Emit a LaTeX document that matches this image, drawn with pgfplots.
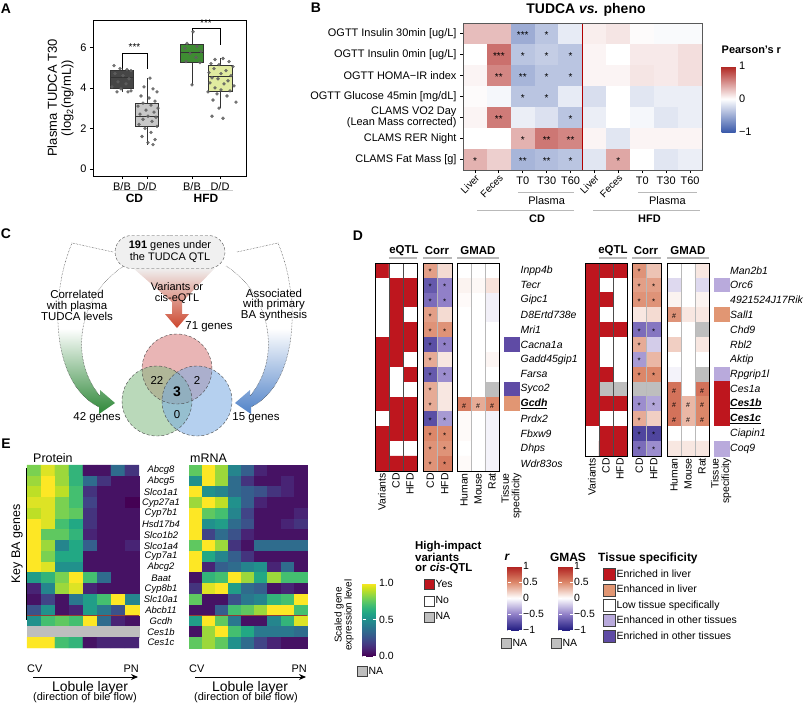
\documentclass[border=0pt]{standalone}
\usepackage{pgfplots}
\pgfplotsset{compat=1.18}
\usepgfplotslibrary{statistics}
\usetikzlibrary{shapes.misc,arrows.meta}
\usepackage{fontspec}
\setmainfont{Liberation Sans}
\newcommand\fs[1]{\fontsize{#1}{#1}\selectfont}
\newcommand\gene[1]{\underline{\textbf{#1}}}

\definecolor{bbCD}{RGB}{70,70,70}
\definecolor{ddCD}{RGB}{200,200,200}
\definecolor{bbHFD}{RGB}{62,140,50}
\definecolor{ddHFD}{RGB}{225,235,160}
\definecolor{qred}{RGB}{190,22,30}
\definecolor{tsal}{RGB}{225,150,115}
\definecolor{tlav}{RGB}{185,170,220}
\definecolor{tpur}{RGB}{95,75,165}
\definecolor{sepline}{RGB}{150,60,50}
\definecolor{arrgreen}{RGB}{45,135,55}
\definecolor{arrblue}{RGB}{80,130,200}
\definecolor{arrred}{RGB}{205,70,45}
\definecolor{vred}{RGB}{215,120,120}
\definecolor{vgreen}{RGB}{130,185,130}
\definecolor{vblue}{RGB}{120,170,225}

\pgfplotsset{
  colormap={rbB}{rgb255=(59,90,170) rgb255=(255,255,255) rgb255=(175,35,30)},
  colormap={eqtl}{rgb255=(255,255,255) rgb255=(190,22,30) rgb255=(190,190,190)},
  colormap={corr}{rgb255=(35,30,130) rgb255=(145,128,200) rgb255=(255,255,255) rgb255=(220,135,105) rgb255=(175,30,30) rgb255=(190,190,190)},
  colormap={corrleg}{rgb255=(35,30,130) rgb255=(145,128,200) rgb255=(255,255,255) rgb255=(220,135,105) rgb255=(175,30,30)},
  colormap={tis}{rgb255=(255,255,255) rgb255=(190,22,30) rgb255=(225,150,115) rgb255=(185,170,220) rgb255=(95,75,165)},
  colormap={vna}{rgb255=(68,1,84) rgb255=(72,36,117) rgb255=(65,68,135) rgb255=(53,95,141) rgb255=(42,120,142) rgb255=(33,145,140) rgb255=(34,168,132) rgb255=(68,191,112) rgb255=(122,209,81) rgb255=(189,223,38) rgb255=(253,231,37) rgb255=(190,190,190)},
  every axis/.append style={/pgf/number format/assume math mode=true},
  hm/.style={scale only axis, anchor=north west, enlargelimits=false, y dir=reverse,
    axis on top, xtick=\empty, ytick=\empty, tick style={draw=none},
    point meta=explicit, axis line style={line width=0.7bp}},
  gridc/.style={xminorgrids, yminorgrids, minor grid style={#1, line width=0.4bp}},
  gridc/.default={gray!55},
  dxlab/.style={xticklabel style={rotate=90, anchor=east, align=right, font=\fs{10.5}, inner sep=2bp}},
  starp/.style={only marks, mark=none, point meta=explicit symbolic,
    nodes near coords={\pgfplotspointmeta},
    every node near coord/.style={anchor=center, inner sep=0pt, font=\fs{#1}, yshift=-1.5bp}},
  legax/.style={hide axis, scale only axis, width=1bp, height=1bp, anchor=north west,
    xmin=0, xmax=1, ymin=0, ymax=1, legend cell align=left,
    legend style={at={(0,1)}, anchor=north west, draw=none, fill=none, inner sep=0pt,
      font=\fs{10.5}, row sep=#1, nodes={inner sep=1bp}}},
  sq/.style={legend image code/.code={\draw[##1] (0bp,-#1) rectangle (2*#1,#1);}},
}

\begin{document}
\begin{tikzpicture}
\useasboundingbox (0,0) rectangle (805bp,-703bp);

%% ---------- A: box plots
\begin{axis}[at={(93bp,-20bp)}, anchor=north west, scale only axis, width=153bp, height=156bp,
  xmin=0, xmax=153, ymin=-0.35, ymax=7.35, clip=false,
  xtick={29,54,99,127}, xticklabels={B/B,D/D,B/B,D/D}, ytick={0,2,4,6},
  tick pos=left, tick align=outside, major tick length=3bp,
  tick style={line width=0.7bp, black}, tick label style={font=\fs{11}},
  axis line style={line width=0.7bp},
  ylabel={Plasma TUDCA T30\\(log\textsubscript{2}(ng/mL))},
  ylabel style={align=center, font=\fontsize{13}{14}\selectfont},
  boxplot/draw direction=y]
\addplot[boxplot prepared={lower whisker=3.8, lower quartile=4.0, median=4.5, upper quartile=4.89,
  upper whisker=5.13, draw position=29, box extend=23, whisker extend=0},
  fill=bbCD, draw=black!80, line width=0.6bp] coordinates {};
\addplot[boxplot prepared={lower whisker=1.19, lower quartile=2.08, median=2.62, upper quartile=3.26,
  upper whisker=4.48, draw position=54, box extend=23, whisker extend=0},
  fill=ddCD, draw=black!80, line width=0.6bp] coordinates {};
\addplot[boxplot prepared={lower whisker=4.15, lower quartile=5.28, median=5.78, upper quartile=6.17,
  upper whisker=6.77, draw position=99, box extend=23, whisker extend=0},
  fill=bbHFD, draw=black!80, line width=0.6bp] coordinates {};
\addplot[boxplot prepared={lower whisker=3.0, lower quartile=3.85, median=4.55, upper quartile=5.09,
  upper whisker=5.45, draw position=127, box extend=24, whisker extend=0},
  fill=ddHFD, draw=black!80, line width=0.6bp] coordinates {};
\addplot[only marks, mark=*, mark size=1.5bp, gray!75!black, opacity=0.85] table[row sep=\\] {
x y\\
21 5.10\\ 27 4.95\\ 34 4.90\\ 38 4.85\\ 22 4.70\\ 30 4.60\\ 36 4.45\\ 25 4.30\\ 33 4.20\\ 19 4.05\\ 28 3.95\\ 38 3.85\\ 24 3.80\\ 35 3.80\\
57 4.48\\ 51 4.05\\ 60 3.95\\ 64 3.80\\ 48 3.60\\ 56 3.50\\ 62 3.35\\ 50 3.25\\ 58 3.15\\ 45 3.10\\ 65 3.00\\ 53 2.90\\ 61 2.80\\
47 2.70\\ 55 2.60\\ 63 2.55\\ 50 2.45\\ 59 2.35\\ 46 2.20\\ 64 2.10\\ 52 2.00\\ 58 1.80\\ 49 1.60\\ 62 1.45\\ 55 1.30\\ 60 1.20\\
100 6.77\\ 94 6.20\\ 104 6.05\\ 92 5.95\\ 108 5.80\\ 97 5.70\\ 103 5.50\\ 93 5.30\\ 107 5.25\\ 99 4.15\\
122 5.40\\ 130 5.45\\ 136 5.30\\ 118 5.20\\ 126 5.15\\ 140 5.05\\ 121 4.95\\ 133 4.85\\ 116 4.75\\ 128 4.70\\ 138 4.60\\ 119 4.50\\
125 4.45\\ 135 4.35\\ 117 4.25\\ 131 4.20\\ 141 4.10\\ 122 4.00\\ 128 3.90\\ 137 3.85\\ 115 3.80\\ 124 3.70\\ 134 3.60\\ 120 3.40\\
143 3.30\\ 126 3.00\\ 119 2.60\\ 130 2.50\\
};
\draw[line width=0.6bp] (axis cs:29,5.0) -- (axis cs:29,5.73) -- (axis cs:54,5.73) -- (axis cs:54,4.95);
\node[font=\fs{10}, inner sep=0pt] at (axis cs:41.5,6.0) {***};
\draw[line width=0.6bp] (axis cs:99,6.82) -- (axis cs:99,6.96) -- (axis cs:127,6.96) -- (axis cs:127,6.1);
\node[font=\fs{10}, inner sep=0pt] at (axis cs:113,7.22) {***};
\draw[gray!40, line width=0.8bp] (axis cs:19,-1.04) -- (axis cs:64,-1.04);
\draw[gray!40, line width=0.8bp] (axis cs:89,-1.04) -- (axis cs:140,-1.04);
\node[font=\bfseries\fs{12}] at (axis cs:41.5,-1.45) {CD};
\node[font=\bfseries\fs{12}] at (axis cs:113,-1.45) {HFD};
\end{axis}

%% ---------- B: correlation heat map
\begin{axis}[at={(463bp,-23bp)}, anchor=north west, scale only axis, width=239bp, height=147bp,
  enlargelimits=false, y dir=reverse, axis on top, clip=false,
  xmin=-0.5, xmax=9.5, ymin=-0.5, ymax=6.5,
  colormap name=rbB, point meta min=-1, point meta max=1,
  ytick={0,...,6},
  yticklabels={OGTT Insulin 30min [ug/L], OGTT Insulin 0min [ug/L], OGTT HOMA−IR index,
    OGTT Glucose 45min [mg/dL], {CLAMS VO2 Day\\(Lean Mass corrected)}, CLAMS RER Night, CLAMS Fat Mass [g]},
  yticklabel style={align=right, font=\fontsize{11}{10.5}\selectfont},
  xtick={2,3,4,7,8,9}, xticklabels={T0,T30,T60,T0,T30,T60},
  extra x ticks={0,1,5,6}, extra x tick labels={Liver,Feces,Liver,Feces},
  extra x tick style={xticklabel style={rotate=45, anchor=north east, inner sep=0.5bp, font=\fs{10}}},
  xticklabel style={font=\fs{11}},
  tick pos=left, tick align=outside, major tick length=3bp,
  tick style={line width=0.8bp, black},
  axis line style={line width=0.7bp, gray!70!black},
  colorbar, colorbar style={at={(parent axis.north east)}, anchor=north west,
    xshift=11bp, yshift=-43bp, scale only axis, width=14bp, height=66bp,
    ytick={-1,0,1}, yticklabels={−1,0,1}, yticklabel style={font=\fs{11}},
    major tick length=0bp, axis line style={draw=none},
    title={Pearson's r}, title style={at={(0,1)}, anchor=south west, yshift=6bp,
      inner sep=0pt, font=\bfseries\fs{11}}}]
\addplot[matrix plot*, mesh/cols=10, point meta=explicit] table[meta=c, row sep=\\] {
x y c\\
0 0 0.30\\ 1 0 0.30\\ 2 0 -0.50\\ 3 0 -0.35\\ 4 0 -0.12\\ 5 0 0.08\\ 6 0 0.12\\ 7 0 0.02\\ 8 0 -0.03\\ 9 0 -0.03\\
0 1 0.00\\ 1 1 0.65\\ 2 1 -0.35\\ 3 1 -0.30\\ 4 1 -0.35\\ 5 1 0.05\\ 6 1 0.00\\ 7 1 0.10\\ 8 1 0.10\\ 9 1 0.15\\
0 2 0.05\\ 1 2 0.55\\ 2 2 -0.45\\ 3 2 -0.35\\ 4 2 -0.35\\ 5 2 0.05\\ 6 2 0.05\\ 7 2 0.12\\ 8 2 0.10\\ 9 2 0.15\\
0 3 0.02\\ 1 3 -0.05\\ 2 3 -0.35\\ 3 3 -0.35\\ 4 3 -0.12\\ 5 3 -0.20\\ 6 3 0.00\\ 7 3 -0.15\\ 8 3 -0.10\\ 9 3 -0.10\\
0 4 0.05\\ 1 4 0.60\\ 2 4 -0.10\\ 3 4 -0.18\\ 4 4 -0.35\\ 5 4 -0.10\\ 6 4 0.00\\ 7 4 -0.05\\ 8 4 -0.15\\ 9 4 -0.10\\
0 5 0.00\\ 1 5 0.00\\ 2 5 0.35\\ 3 5 0.62\\ 4 5 0.55\\ 5 5 0.05\\ 6 5 -0.15\\ 7 5 0.05\\ 8 5 0.05\\ 9 5 0.05\\
0 6 0.35\\ 1 6 0.22\\ 2 6 -0.45\\ 3 6 -0.40\\ 4 6 -0.35\\ 5 6 -0.15\\ 6 6 0.40\\ 7 6 0.00\\ 8 6 -0.15\\ 9 6 -0.10\\
};
\addplot[starp=10] table[meta=s, row sep=\\] {
x y s\\
2 0 ***\\ 3 0 *\\ 1 1 ***\\ 2 1 *\\ 3 1 *\\ 4 1 *\\ 1 2 **\\ 2 2 **\\ 3 2 *\\ 4 2 *\\ 2 3 *\\ 3 3 *\\
1 4 **\\ 4 4 *\\ 2 5 *\\ 3 5 **\\ 4 5 **\\ 0 6 *\\ 2 6 **\\ 3 6 **\\ 4 6 *\\ 6 6 *\\
};
\draw[red!70!black, line width=1.6bp] (axis cs:4.5,-0.5) -- (axis cs:4.5,6.5);
\draw[gray!55, line width=0.8bp] (axis cs:1.8,7.55) -- (axis cs:4.14,7.55);
\draw[gray!55, line width=0.8bp] (axis cs:6.82,7.55) -- (axis cs:9.29,7.55);
\node[font=\fs{11}] at (axis cs:3,7.95) {Plasma};
\node[font=\fs{11}] at (axis cs:8.05,7.95) {Plasma};
\draw[gray!55, line width=0.8bp] (axis cs:0.09,8.4) -- (axis cs:4.14,8.4);
\draw[gray!55, line width=0.8bp] (axis cs:4.94,8.4) -- (axis cs:9.42,8.4);
\node[font=\bfseries\fs{11}] at (axis cs:2.6,8.8) {CD};
\node[font=\bfseries\fs{11}] at (axis cs:7.3,8.8) {HFD};
\end{axis}

%% ---------- D: left block
\begin{axis}[hm, gridc=gray!60!black, at={(375bp,-263bp)}, width=42bp, height=208bp,
  xmin=-0.5, xmax=2.5, ymin=-0.5, ymax=13.5, colormap name=eqtl, point meta min=0, point meta max=2,
  minor xtick={0.5,1.5}, minor ytick={0.5,1.5,...,12.5},
  xtick={0,1,2}, xticklabels={Variants,CD,HFD}, dxlab]
\addplot[matrix plot*, mesh/cols=3] table[meta=c, row sep=\\] {
x y c\\
0 0 1\\ 1 0 0\\ 2 0 0\\  0 1 0\\ 1 1 1\\ 2 1 1\\  0 2 0\\ 1 2 1\\ 2 2 1\\  0 3 0\\ 1 3 1\\ 2 3 0\\
0 4 0\\ 1 4 1\\ 2 4 1\\  0 5 1\\ 1 5 1\\ 2 5 1\\  0 6 1\\ 1 6 1\\ 2 6 0\\  0 7 1\\ 1 7 0\\ 2 7 1\\
0 8 1\\ 1 8 0\\ 2 8 0\\  0 9 1\\ 1 9 1\\ 2 9 1\\  0 10 0\\ 1 10 1\\ 2 10 1\\  0 11 1\\ 1 11 1\\ 2 11 1\\
0 12 1\\ 1 12 0\\ 2 12 0\\  0 13 1\\ 1 13 1\\ 2 13 1\\
};
\end{axis}

\begin{axis}[hm, gridc, at={(423bp,-263bp)}, width=29bp, height=208bp,
  xmin=-0.5, xmax=1.5, ymin=-0.5, ymax=13.5, colormap name=corr, point meta min=-1, point meta max=1.5,
  minor xtick={0.5}, minor ytick={0.5,1.5,...,12.5}, xtick={0,1}, xticklabels={CD,HFD}, dxlab]
\addplot[matrix plot*, mesh/cols=2] table[meta=c, row sep=\\] {
x y c\\
0 0 0.40\\ 1 0 0.15\\  0 1 -0.70\\ 1 1 -0.50\\  0 2 -0.60\\ 1 2 -0.50\\  0 3 0.40\\ 1 3 0.15\\
0 4 0.45\\ 1 4 0.45\\  0 5 -0.75\\ 1 5 -0.50\\  0 6 0.35\\ 1 6 0.10\\  0 7 -0.70\\ 1 7 -0.45\\
0 8 0.35\\ 1 8 0.10\\  0 9 0.35\\ 1 9 0.10\\  0 10 -0.75\\ 1 10 -0.40\\  0 11 0.50\\ 1 11 0.50\\
0 12 0.45\\ 1 12 0.45\\  0 13 0.45\\ 1 13 0.55\\
};
\addplot[starp=8] table[meta=s, row sep=\\] {
x y s\\
0 0 *\\ 0 1 *\\ 0 2 *\\ 0 3 *\\ 0 4 *\\ 0 5 *\\ 0 6 *\\ 0 7 *\\ 0 8 *\\ 0 9 *\\ 0 10 *\\ 0 11 *\\ 0 12 *\\ 0 13 *\\
1 1 *\\ 1 2 *\\ 1 4 *\\ 1 5 *\\ 1 7 *\\ 1 10 *\\ 1 11 *\\ 1 12 *\\ 1 13 *\\
};
\end{axis}

\begin{axis}[hm, gridc, at={(457bp,-263bp)}, width=42bp, height=208bp,
  xmin=-0.5, xmax=2.5, ymin=-0.5, ymax=13.5, colormap name=corr, point meta min=-1, point meta max=1.5,
  minor xtick={0.5,1.5}, minor ytick={0.5,1.5,...,12.5},
  xtick={0,1,2}, xticklabels={Human,Mouse,Rat}, dxlab]
\addplot[matrix plot*, mesh/cols=3] table[meta=c, row sep=\\] {
x y c\\
0 0 0\\ 1 0 0\\ 2 0 0\\  0 1 0.05\\ 1 1 0.03\\ 2 1 0.12\\  0 2 0.02\\ 1 2 0\\ 2 2 -0.06\\  0 3 0\\ 1 3 0\\ 2 3 -0.06\\
0 4 0\\ 1 4 0\\ 2 4 0\\  0 5 0\\ 1 5 0\\ 2 5 0\\  0 6 0\\ 1 6 0\\ 2 6 0.04\\  0 7 0\\ 1 7 0\\ 2 7 0\\
0 8 0\\ 1 8 0\\ 2 8 1.5\\  0 9 0.55\\ 1 9 0.35\\ 2 9 0.50\\  0 10 0.02\\ 1 10 0\\ 2 10 -0.05\\  0 11 0.02\\ 1 11 0\\ 2 11 -0.05\\
0 12 0\\ 1 12 0\\ 2 12 -0.05\\  0 13 0.02\\ 1 13 0\\ 2 13 -0.05\\
};
\addplot[starp=7] table[meta=s, row sep=\\] {
x y s\\
0 9 \#\\ 1 9 \#\\ 2 9 \#\\
};
\end{axis}

\begin{axis}[hm, gridc, at={(504bp,-263bp)}, width=15bp, height=208bp,
  xmin=-0.5, xmax=0.5, ymin=-0.5, ymax=13.5, colormap name=tis, point meta min=0, point meta max=4,
  minor ytick={0.5,1.5,...,12.5}, xtick={0}, xticklabels={Tissue\\specificity}, dxlab,
  ytick={0,...,13}, yticklabel pos=right,
  yticklabel style={anchor=west, font=\itshape\fs{10.5}, inner sep=1.5bp},
  yticklabels={Inpp4b,Tecr,Gipc1,D8Ertd738e,Mri1,Cacna1a,Gadd45gip1,Farsa,Syco2,\gene{Gcdh},Prdx2,Fbxw9,Dhps,Wdr83os}]
\addplot[scatter, only marks, mark=square*, mark size=7.5bp,
  scatter/use mapped color={draw=mapped color, fill=mapped color}] table[meta=c, row sep=\\] {
x y c\\
0 0 0\\ 0 1 0\\ 0 2 0\\ 0 3 0\\ 0 4 0\\ 0 5 4\\ 0 6 0\\ 0 7 0\\ 0 8 4\\ 0 9 2\\ 0 10 0\\ 0 11 0\\ 0 12 0\\ 0 13 0\\
};
\end{axis}

%% ---------- D: right block
\begin{axis}[hm, gridc=gray!60!black, at={(585bp,-263bp)}, width=42bp, height=193bp,
  xmin=-0.5, xmax=2.5, ymin=-0.5, ymax=12.5, colormap name=eqtl, point meta min=0, point meta max=2,
  minor xtick={0.5,1.5}, minor ytick={0.5,1.5,...,11.5},
  xtick={0,1,2}, xticklabels={Variants,CD,HFD}, dxlab]
\addplot[matrix plot*, mesh/cols=3] table[meta=c, row sep=\\] {
x y c\\
0 0 1\\ 1 0 1\\ 2 0 1\\  0 1 1\\ 1 1 0\\ 2 1 0\\  0 2 1\\ 1 2 1\\ 2 2 0\\  0 3 1\\ 1 3 0\\ 2 3 0\\
0 4 1\\ 1 4 1\\ 2 4 1\\  0 5 1\\ 1 5 0\\ 2 5 0\\  0 6 1\\ 1 6 0\\ 2 6 0\\  0 7 1\\ 1 7 1\\ 2 7 0\\
0 8 1\\ 1 8 2\\ 2 8 2\\  0 9 1\\ 1 9 1\\ 2 9 1\\  0 10 1\\ 1 10 0\\ 2 10 0\\  0 11 0\\ 1 11 1\\ 2 11 1\\
0 12 0\\ 1 12 1\\ 2 12 1\\
};
\end{axis}

\begin{axis}[hm, gridc, at={(632bp,-263bp)}, width=29bp, height=193bp,
  xmin=-0.5, xmax=1.5, ymin=-0.5, ymax=12.5, colormap name=corr, point meta min=-1, point meta max=1.5,
  minor xtick={0.5}, minor ytick={0.5,1.5,...,11.5}, xtick={0,1}, xticklabels={CD,HFD}, dxlab]
\addplot[matrix plot*, mesh/cols=2] table[meta=c, row sep=\\] {
x y c\\
0 0 0.45\\ 1 0 0.25\\  0 1 0.40\\ 1 1 0.40\\  0 2 0.45\\ 1 2 0.45\\  0 3 0.10\\ 1 3 0.15\\
0 4 -0.60\\ 1 4 -0.55\\  0 5 0.35\\ 1 5 -0.20\\  0 6 -0.40\\ 1 6 0.30\\  0 7 0.50\\ 1 7 0.50\\
0 8 1.5\\ 1 8 1.5\\  0 9 -0.45\\ 1 9 -0.35\\  0 10 0.35\\ 1 10 0.20\\  0 11 -0.80\\ 1 11 -0.80\\
0 12 -0.60\\ 1 12 -0.45\\
};
\addplot[starp=8] table[meta=s, row sep=\\] {
x y s\\
0 0 *\\ 0 1 *\\ 1 1 *\\ 0 2 *\\ 1 2 *\\ 0 4 *\\ 1 4 *\\ 0 5 *\\ 0 6 *\\ 0 7 *\\ 1 7 *\\
0 9 *\\ 1 9 *\\ 0 10 *\\ 0 11 *\\ 1 11 *\\ 0 12 *\\ 1 12 *\\
};
\end{axis}

\begin{axis}[hm, gridc, at={(667bp,-263bp)}, width=42bp, height=193bp,
  xmin=-0.5, xmax=2.5, ymin=-0.5, ymax=12.5, colormap name=corr, point meta min=-1, point meta max=1.5,
  minor xtick={0.5,1.5}, minor ytick={0.5,1.5,...,11.5},
  xtick={0,1,2}, xticklabels={Human,Mouse,Rat}, dxlab]
\addplot[matrix plot*, mesh/cols=3] table[meta=c, row sep=\\] {
x y c\\
0 0 0\\ 1 0 0\\ 2 0 0.10\\  0 1 -0.15\\ 1 1 0\\ 2 1 -0.15\\  0 2 0.05\\ 1 2 0\\ 2 2 0.05\\  0 3 0.45\\ 1 3 0.10\\ 2 3 0.10\\
0 4 0\\ 1 4 0\\ 2 4 1.5\\  0 5 0.20\\ 1 5 0\\ 2 5 0.10\\  0 6 0\\ 1 6 0\\ 2 6 0\\  0 7 -0.05\\ 1 7 0\\ 2 7 1.5\\
0 8 0.60\\ 1 8 0\\ 2 8 0.60\\  0 9 0.60\\ 1 9 0.30\\ 2 9 0.50\\  0 10 0.60\\ 1 10 0.30\\ 2 10 0.50\\  0 11 0\\ 1 11 0\\ 2 11 0\\
0 12 0.10\\ 1 12 0.10\\ 2 12 0.10\\
};
\addplot[starp=7] table[meta=s, row sep=\\] {
x y s\\
0 3 \#\\ 0 8 \#\\ 2 8 \#\\ 0 9 \#\\ 1 9 \#\\ 2 9 \#\\ 0 10 \#\\ 1 10 \#\\ 2 10 \#\\
};
\end{axis}

\begin{axis}[hm, gridc, at={(714bp,-263bp)}, width=14.5bp, height=193bp,
  xmin=-0.5, xmax=0.5, ymin=-0.5, ymax=12.5, colormap name=tis, point meta min=0, point meta max=4,
  minor ytick={0.5,1.5,...,11.5}, xtick={0}, xticklabels={Tissue\\specificity}, dxlab,
  ytick={0,...,12}, yticklabel pos=right,
  yticklabel style={anchor=west, font=\itshape\fs{10.5}, inner sep=1.5bp},
  yticklabels={Man2b1,Orc6,4921524J17Rik,Sall1,Chd9,Rbl2,Aktip,Rpgrip1l,Ces1a,\gene{Ces1b},\gene{Ces1c},Ciapin1,Coq9}]
\addplot[scatter, only marks, mark=square*, mark size=7.5bp,
  scatter/use mapped color={draw=mapped color, fill=mapped color}] table[meta=c, row sep=\\] {
x y c\\
0 0 0\\ 0 1 3\\ 0 2 0\\ 0 3 2\\ 0 4 0\\ 0 5 0\\ 0 6 0\\ 0 7 3\\ 0 8 1\\ 0 9 1\\ 0 10 1\\ 0 11 0\\ 0 12 3\\
};
\end{axis}

%% ---------- E: zonation heat maps
\begin{axis}[hm, at={(27bp,-465bp)}, width=112bp, height=183bp, axis line style={draw=none}, clip=false,
  xmin=-0.5, xmax=7.5, ymin=-0.5, ymax=16.5, colormap name=vna, point meta min=0, point meta max=1.1,
  ytick={0,...,16},
  yticklabels={Abcg8,Abcg5,Slco1a1,Cyp27a1,Cyp7b1,Hsd17b4,Slco1b2,Slco1a4,Cyp7a1,Abcg2,Baat,Cyp8b1,Slc10a1,Abcb11,Gcdh,Ces1b,Ces1c},
  yticklabel pos=right, yticklabel style={anchor=center, xshift=22bp, font=\itshape\fs{9.5}}]
\addplot[matrix plot*, mesh/cols=8] table[meta=c, row sep=\\] {
x y c\\
0 0 0.80\\ 1 0 0.95\\ 2 0 0.85\\ 3 0 0.65\\ 4 0 0.05\\ 5 0 0.05\\ 6 0 0.35\\ 7 0 0.15\\
0 1 0.85\\ 1 1 1.00\\ 2 1 0.85\\ 3 1 0.65\\ 4 1 0.35\\ 5 1 0.15\\ 6 1 0.05\\ 7 1 0.05\\
0 2 0.90\\ 1 2 1.00\\ 2 2 0.90\\ 3 2 0.70\\ 4 2 0.15\\ 5 2 0.05\\ 6 2 0.05\\ 7 2 0.05\\
0 3 0.95\\ 1 3 0.95\\ 2 3 0.80\\ 3 3 0.70\\ 4 3 0.20\\ 5 3 0.05\\ 6 3 0.05\\ 7 3 0.00\\
0 4 0.90\\ 1 4 0.95\\ 2 4 0.80\\ 3 4 0.75\\ 4 4 0.15\\ 5 4 0.05\\ 6 4 0.05\\ 7 4 0.05\\
0 5 1.00\\ 1 5 0.95\\ 2 5 0.70\\ 3 5 0.60\\ 4 5 0.15\\ 5 5 0.05\\ 6 5 0.05\\ 7 5 0.05\\
0 6 1.00\\ 1 6 0.75\\ 2 6 0.75\\ 3 6 0.65\\ 4 6 0.10\\ 5 6 0.05\\ 6 6 0.05\\ 7 6 0.05\\
0 7 1.00\\ 1 7 0.85\\ 2 7 0.45\\ 3 7 0.60\\ 4 7 0.30\\ 5 7 0.05\\ 6 7 0.05\\ 7 7 0.10\\
0 8 1.00\\ 1 8 0.80\\ 2 8 0.60\\ 3 8 0.60\\ 4 8 0.05\\ 5 8 0.05\\ 6 8 0.05\\ 7 8 0.05\\
0 9 1.00\\ 1 9 0.95\\ 2 9 0.50\\ 3 9 0.50\\ 4 9 0.05\\ 5 9 0.05\\ 6 9 0.05\\ 7 9 0.05\\
0 10 0.55\\ 1 10 0.65\\ 2 10 0.80\\ 3 10 1.00\\ 4 10 0.70\\ 5 10 0.35\\ 6 10 0.05\\ 7 10 0.05\\
0 11 0.10\\ 1 11 0.45\\ 2 11 0.85\\ 3 11 0.95\\ 4 11 0.10\\ 5 11 0.05\\ 6 11 0.05\\ 7 11 0.05\\
0 12 0.05\\ 1 12 0.20\\ 2 12 0.05\\ 3 12 0.40\\ 4 12 0.55\\ 5 12 0.70\\ 6 12 1.00\\ 7 12 0.45\\
0 13 0.25\\ 1 13 0.50\\ 2 13 0.05\\ 3 13 0.10\\ 4 13 0.55\\ 5 13 0.40\\ 6 13 0.25\\ 7 13 1.00\\
0 14 0.50\\ 1 14 0.70\\ 2 14 0.75\\ 3 14 0.70\\ 4 14 1.00\\ 5 14 0.35\\ 6 14 0.10\\ 7 14 0.05\\
0 15 1.1\\ 1 15 1.1\\ 2 15 1.1\\ 3 15 1.1\\ 4 15 1.1\\ 5 15 1.1\\ 6 15 1.1\\ 7 15 1.1\\
0 16 1.00\\ 1 16 1.00\\ 2 16 0.70\\ 3 16 0.65\\ 4 16 0.05\\ 5 16 0.10\\ 6 16 0.10\\ 7 16 0.10\\
};
\draw[sepline, line width=0.8bp] (axis cs:-0.5,13.5) -- (axis cs:7.5,13.5);
\end{axis}

\begin{axis}[hm, at={(189bp,-465bp)}, width=118bp, height=183bp, axis line style={draw=none}, clip=false,
  xmin=-0.5, xmax=8.5, ymin=-0.5, ymax=16.5, colormap name=vna, point meta min=0, point meta max=1.1]
\addplot[matrix plot*, mesh/cols=9] table[meta=c, row sep=\\] {
x y c\\
0 0 0.75\\ 1 0 1.00\\ 2 0 0.85\\ 3 0 0.45\\ 4 0 0.30\\ 5 0 0.10\\ 6 0 0.05\\ 7 0 0.05\\ 8 0 0.05\\
0 1 0.50\\ 1 1 1.00\\ 2 1 0.85\\ 3 1 0.35\\ 4 1 0.15\\ 5 1 0.05\\ 6 1 0.05\\ 7 1 0.10\\ 8 1 0.05\\
0 2 1.00\\ 1 2 0.50\\ 2 2 0.45\\ 3 2 0.35\\ 4 2 0.30\\ 5 2 0.25\\ 6 2 0.15\\ 7 2 0.10\\ 8 2 0.05\\
0 3 0.85\\ 1 3 1.00\\ 2 3 0.90\\ 3 3 0.50\\ 4 3 0.30\\ 5 3 0.10\\ 6 3 0.05\\ 7 3 0.05\\ 8 3 0.05\\
0 4 1.00\\ 1 4 0.75\\ 2 4 0.70\\ 3 4 0.45\\ 4 4 0.20\\ 5 4 0.05\\ 6 4 0.05\\ 7 4 0.05\\ 8 4 0.10\\
0 5 1.00\\ 1 5 0.50\\ 2 5 0.55\\ 3 5 0.35\\ 4 5 0.25\\ 5 5 0.05\\ 6 5 0.05\\ 7 5 0.10\\ 8 5 0.15\\
0 6 1.00\\ 1 6 0.20\\ 2 6 0.35\\ 3 6 0.25\\ 4 6 0.10\\ 5 6 0.05\\ 6 6 0.05\\ 7 6 0.05\\ 8 6 0.05\\
0 7 0.75\\ 1 7 1.00\\ 2 7 0.85\\ 3 7 0.15\\ 4 7 0.05\\ 5 7 0.35\\ 6 7 0.35\\ 7 7 0.35\\ 8 7 0.35\\
0 8 1.00\\ 1 8 0.60\\ 2 8 0.45\\ 3 8 0.30\\ 4 8 0.15\\ 5 8 0.05\\ 6 8 0.05\\ 7 8 0.05\\ 8 8 0.05\\
0 9 1.00\\ 1 9 0.10\\ 2 9 0.30\\ 3 9 0.35\\ 4 9 0.45\\ 5 9 0.50\\ 6 9 0.10\\ 7 9 0.35\\ 8 9 0.05\\
0 10 0.05\\ 1 10 0.65\\ 2 10 0.70\\ 3 10 1.00\\ 4 10 0.85\\ 5 10 0.60\\ 6 10 0.85\\ 7 10 0.70\\ 8 10 0.70\\
0 11 0.15\\ 1 11 0.95\\ 2 11 1.00\\ 3 11 0.55\\ 4 11 0.35\\ 5 11 0.30\\ 6 11 0.05\\ 7 11 0.10\\ 8 11 0.05\\
0 12 0.75\\ 1 12 0.05\\ 2 12 0.05\\ 3 12 0.25\\ 4 12 0.40\\ 5 12 0.45\\ 6 12 0.65\\ 7 12 0.70\\ 8 12 1.00\\
0 13 0.05\\ 1 13 0.05\\ 2 13 0.30\\ 3 13 0.70\\ 4 13 0.75\\ 5 13 0.85\\ 6 13 1.00\\ 7 13 1.00\\ 8 13 0.70\\
0 14 0.55\\ 1 14 1.00\\ 2 14 0.75\\ 3 14 0.40\\ 4 14 0.05\\ 5 14 0.05\\ 6 14 0.45\\ 7 14 0.65\\ 8 14 0.95\\
0 15 0.05\\ 1 15 0.85\\ 2 15 1.00\\ 3 15 0.70\\ 4 15 0.60\\ 5 15 0.40\\ 6 15 0.40\\ 7 15 0.40\\ 8 15 0.35\\
0 16 0.75\\ 1 16 0.85\\ 2 16 0.75\\ 3 16 0.50\\ 4 16 0.35\\ 5 16 0.20\\ 6 16 0.10\\ 7 16 0.05\\ 8 16 0.05\\
};
\draw[sepline, line width=0.8bp] (axis cs:-0.5,13.5) -- (axis cs:8.5,13.5);
\end{axis}

%% ---------- colour bars
\begin{axis}[hide axis, scale only axis, width=1bp, height=1bp, at={(354bp,-583bp)}, anchor=north west,
  xmin=0, xmax=1, ymin=0, ymax=1, colormap/viridis, point meta min=0, point meta max=1,
  colorbar, colorbar style={at={(parent axis.north west)}, anchor=north west, scale only axis,
    width=13bp, height=73bp, ytick={0,0.5,1}, yticklabels={0.0,0.5,1.0}, yticklabel style={font=\fs{10.5}},
    tick style={draw=white, line width=0.8bp}, major tick length=3bp, tick align=inside, axis line style={draw=none}}]
\addplot[draw=none] coordinates {(0,0)};
\end{axis}
\begin{axis}[hide axis, scale only axis, width=1bp, height=1bp, at={(499bp,-566bp)}, anchor=north west,
  xmin=0, xmax=1, ymin=0, ymax=1, colormap name=corrleg, point meta min=-1, point meta max=1,
  colorbar, colorbar style={at={(parent axis.north west)}, anchor=north west, scale only axis,
    width=14bp, height=64bp, ytick={-1,-0.5,0,0.5,1}, yticklabels={−1,−0.5,0,0.5,1},
    yticklabel style={font=\fs{10.5}, inner sep=1.5bp},
    tick style={draw=white, line width=0.8bp}, major tick length=3bp, tick align=inside, axis line style={draw=none}}]
\addplot[draw=none] coordinates {(0,0)};
\end{axis}
\begin{axis}[hide axis, scale only axis, width=1bp, height=1bp, at={(550bp,-566bp)}, anchor=north west,
  xmin=0, xmax=1, ymin=0, ymax=1, colormap name=corrleg, point meta min=-1, point meta max=1,
  colorbar, colorbar style={at={(parent axis.north west)}, anchor=north west, scale only axis,
    width=14bp, height=64bp, ytick={-1,-0.5,0,0.5,1}, yticklabels={−1,−0.5,0,0.5,1},
    yticklabel style={font=\fs{10.5}, inner sep=1.5bp},
    tick style={draw=white, line width=0.8bp}, major tick length=3bp, tick align=inside, axis line style={draw=none}}]
\addplot[draw=none] coordinates {(0,0)};
\end{axis}

%% ---------- legends
\begin{axis}[legax=5.5bp, sq=5bp, at={(424bp,-579bp)}]
\addplot[draw=none, forget plot] coordinates {(0,0)};
\addlegendimage{fill=qred, draw=black!75}
\addlegendentry{Yes}
\addlegendimage{fill=white, draw=black!75}
\addlegendentry{No}
\addlegendimage{fill=gray!50, draw=black!75}
\addlegendentry{NA}
\end{axis}
\begin{axis}[legax=0bp, sq=5bp, at={(501bp,-638bp)}]
\addplot[draw=none, forget plot] coordinates {(0,0)};
\addlegendimage{fill=gray!50, draw=black!75}
\addlegendentry{NA}
\end{axis}
\begin{axis}[legax=0bp, sq=5bp, at={(551bp,-638bp)}]
\addplot[draw=none, forget plot] coordinates {(0,0)};
\addlegendimage{fill=gray!50, draw=black!75}
\addlegendentry{NA}
\end{axis}
\begin{axis}[legax=0bp, sq=5bp, at={(357bp,-666bp)}]
\addplot[draw=none, forget plot] coordinates {(0,0)};
\addlegendimage{fill=gray!50, draw=black!75}
\addlegendentry{NA}
\end{axis}
\begin{axis}[legax=3bp, sq=6bp, at={(603bp,-568bp)}]
\addplot[draw=none, forget plot] coordinates {(0,0)};
\addlegendimage{fill=qred, draw=black!75}
\addlegendentry{Enriched in liver}
\addlegendimage{fill=tsal, draw=black!75}
\addlegendentry{Enhanced in liver}
\addlegendimage{fill=white, draw=black!75}
\addlegendentry{Low tissue specifically}
\addlegendimage{fill=tlav, draw=black!75}
\addlegendentry{Enhanced in other tissues}
\addlegendimage{fill=tpur, draw=black!75}
\addlegendentry{Enriched in other tissues}
\end{axis}

%% ---------- schematic (panel C) and free text
\begin{scope}[x=1bp, y=-1bp]
\foreach \l/\px/\py in {A/6/9, B/316/8, C/6/234, D/358/236, E/6/444}
  \node[font=\bfseries\fs{14}] at (\px,\py) {\l};
\node[font=\bfseries\fs{14}] at (586,10) {TUDCA \textit{vs.} pheno};

% panel C: curved arrows
\shade[top color=white, bottom color=arrgreen, middle color=white]
  (72,243) -- (113,252) -- (124,266) .. controls (82,292) and (66,355) .. (100,396)
  -- (100,390) -- (115,403) -- (99,414) -- (99,407) .. controls (53,385) and (48,300) .. (72,243) -- cycle;
\shade[top color=white, bottom color=arrblue, middle color=white]
  (278,243) -- (237,252) -- (226,266) .. controls (268,292) and (284,355) .. (250,396)
  -- (250,390) -- (235,403) -- (251,414) -- (251,407) .. controls (297,385) and (302,300) .. (278,243) -- cycle;
\begin{scope}[densely dotted, gray!50!black, line width=0.5bp]
  \draw (113,252) -- (72,243) .. controls (48,300) and (53,385) .. (99,407);
  \draw (124,266) .. controls (82,292) and (66,355) .. (100,396);
  \draw (237,252) -- (278,243) .. controls (302,300) and (297,385) .. (251,407);
  \draw (226,266) .. controls (268,292) and (284,355) .. (250,396);
\end{scope}
\shade[top color=gray!12, bottom color=arrred]
  (133,268) -- (215,268) -- (182,302) -- (182,314) -- (189,314) -- (177,328) -- (165,314)
  -- (172,314) -- (172,302) -- cycle;
\node[rounded rectangle, draw=gray!60!black, densely dashed, fill=gray!12, minimum width=112bp,
  minimum height=33bp, inner sep=1bp, align=center, font=\fontsize{11}{12}\selectfont]
  at (170,252) {\textbf{191} genes under\\the TUDCA QTL};
\node[align=center, font=\fontsize{11}{10.5}\selectfont] at (177,293) {Variants or\\cis-eQTL};
\node[align=center, font=\fontsize{11.5}{11}\selectfont] at (77,305) {Correlated\\with plasma\\TUDCA levels};
\node[align=center, font=\fontsize{11.5}{11}\selectfont] at (274,305) {Associated\\with primary\\BA synthesis};

% panel C: Venn diagram
\fill[vred, fill opacity=0.55] (177,369) circle[radius=35bp];
\fill[vgreen, fill opacity=0.55] (157,401) circle[radius=35bp];
\fill[vblue, fill opacity=0.55] (197,401) circle[radius=35bp];
\begin{scope}[densely dashed, gray!55!black, line width=0.4bp]
  \draw (177,369) circle[radius=35bp];
  \draw (157,401) circle[radius=35bp];
  \draw (197,401) circle[radius=35bp];
\end{scope}
\node[font=\fs{11.5}] at (157,380) {22};
\node[font=\fs{11.5}] at (197,380) {2};
\node[font=\bfseries\fs{14}] at (177,392) {3};
\node[font=\fs{11.5}] at (177,415) {0};
\node[font=\fs{11.5}] at (209,327) {71 genes};
\node[font=\fs{11.5}] at (97,418) {42 genes};
\node[font=\fs{11.5}] at (256,418) {15 genes};

% panel D headers
\foreach \t/\cx/\xa/\xb in {eQTL/404/389/417, Corr/437/423/452, GMAD/478/457/499,
                            eQTL/613/599/627, Corr/646/632/661, GMAD/688/667/709} {
  \node[font=\bfseries\fs{11.5}] at (\cx,251) {\t};
  \draw[gray!55, line width=1.3bp] (\xa,258) -- (\xb,258);
}

% panel E annotations
\node[anchor=base west, font=\fs{12.5}, inner sep=0pt] at (33,462) {Protein};
\node[anchor=base west, font=\fs{12.5}, inner sep=0pt] at (190,462) {mRNA};
\draw[line width=0.7bp] (26,468) -- (26,620);
\node[rotate=90, anchor=south, font=\fs{12.5}, inner sep=1bp] at (24,544) {Key BA genes};
\foreach \xl/\xr/\cx/\cxb in {27/139/90/85, 189/307/250/246} {
  \node[anchor=base west, font=\fs{11}, inner sep=0pt] at (\xl,672) {CV};
  \node[anchor=base east, font=\fs{11}, inner sep=0pt] at (\xr,672) {PN};
  \draw[-{Stealth[length=7bp,width=6bp]}, line width=1bp] (\xl+6,677) -- (\xr-1,677);
  \node[font=\fs{14}] at (\cx,688) {Lobule layer};
  \node[font=\fs{11}] at (\cxb,698) {(direction of bile flow)};
}
\node[rotate=90, align=center, font=\fontsize{10}{10}\selectfont] at (344,615) {Scaled gene\\expression level};

% legend titles
\node[anchor=north west, align=left, font=\bfseries\fontsize{11.5}{10.5}\selectfont, inner sep=0pt]
  at (415,541) {High-impact\\variants\\or \textit{cis}-QTL};
\node[font=\bfseries\itshape\fs{12}] at (507,557) {r};
\node[font=\bfseries\fs{12}] at (568,557) {GMAS};
\node[anchor=base west, font=\bfseries\fs{12}, inner sep=0pt] at (598,561) {Tissue specificity};
\end{scope}
\end{tikzpicture}
\end{document}
